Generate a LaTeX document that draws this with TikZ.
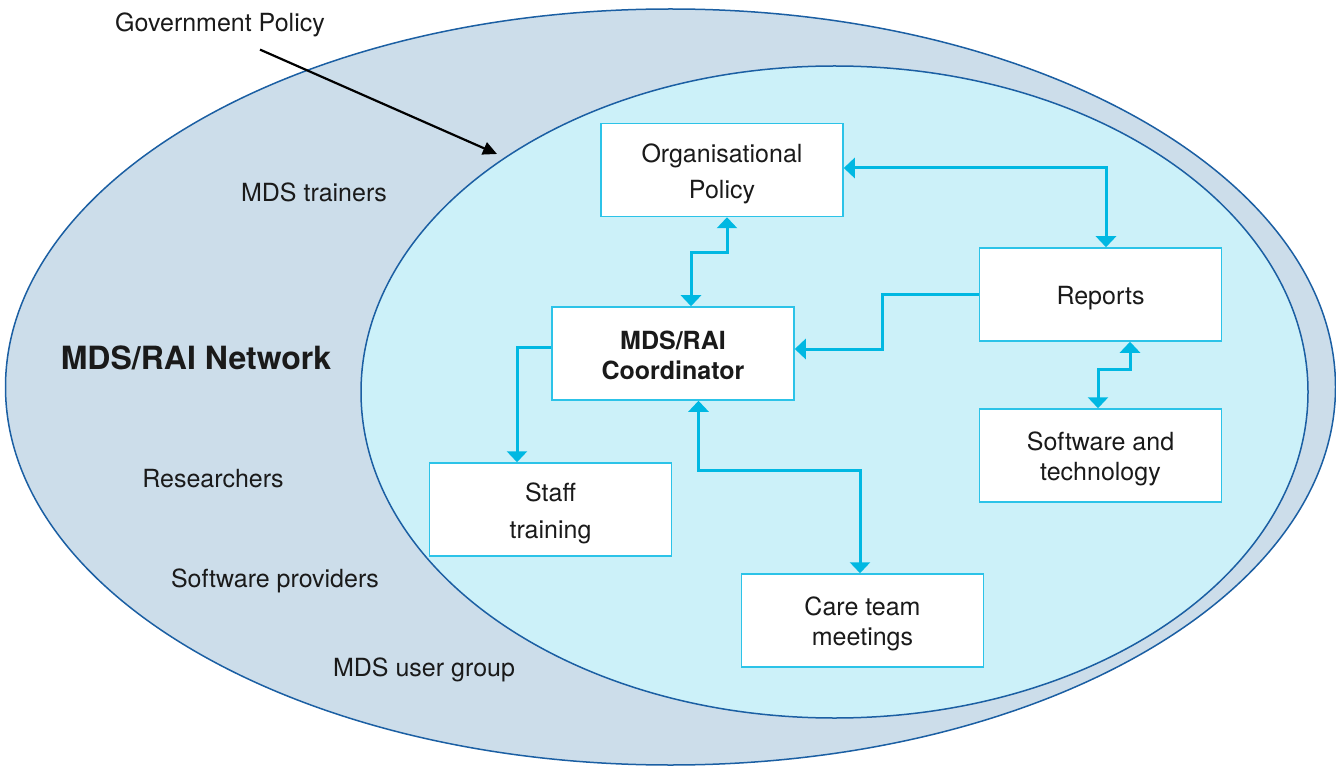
\documentclass[tikz,border=0pt]{standalone}
\usepackage{fontspec}
\setmainfont{TeX Gyre Heros}
\usetikzlibrary{arrows.meta}
\definecolor{outerfill}{HTML}{CCDDEA}
\definecolor{innerfill}{HTML}{CCF1F9}
\definecolor{rim}{HTML}{1B5FA3}
\definecolor{boxline}{HTML}{2CC3E8}
\definecolor{flow}{HTML}{00B8E2}
\definecolor{ink}{HTML}{1A1A1A}
\newcommand\boxlift[1][26pt]{\rule{0pt}{#1}}

\begin{document}
\begin{tikzpicture}[x=1pt, y=-1pt,
  main/.style = {draw=boxline, line width=1.5pt, fill=white, minimum width=242pt, minimum height=93pt, align=center, text=ink, inner sep=0pt, font=\fontsize{25}{30}\selectfont},
  side/.style = {text=ink, font=\fontsize{25}{30}\selectfont},
  link/.style = {draw=flow, line width=3pt, >={Triangle[width=20pt,length=11pt]}}]
\useasboundingbox (0,0) rectangle (1336,767);
\draw[rim, line width=1.5pt, fill=outerfill] (670.5,387) ellipse [x radius=665, y radius=378];
\draw[rim, line width=1.5pt, fill=innerfill] (834.5,392) ellipse [x radius=473.5, y radius=326];

\node[main] (1) at (722,170) {\boxlift Organisational\\[6pt]Policy};
\node[main, font=\bfseries\fontsize{25}{30}\selectfont] (2) at (673,353.5) {\boxlift[21.5pt]MDS/RAI\\Coordinator};
\node[main] (3) at (1100.5,294.5) {\boxlift Reports};
\node[main] (4) at (1100.5,455.5) {\boxlift Software and\\technology};
\node[main] (5) at (550.5,509.5) {\boxlift Staff\\[7pt]training};
\node[main] (6) at (862.5,620.5) {\boxlift Care team\\meetings};

\node[side] (7) at (314,192) {MDS trainers};
\node[side, font=\bfseries\fontsize{32}{38}\selectfont] (8) at (196,358) {MDS/RAI Network};
\node[side] (9) at (213,479) {Researchers};
\node[side] (10) at (275,581) {Software providers};
\node[side] (11) at (424,670) {MDS user group};
\node[side] (12) at (220,25) {Government Policy};
\coordinate (13) at (497,154);

\draw[link, <->] ([xshift=18pt]2.north) -- ++(0,-54) -| ([xshift=5pt]1.south);
\draw[link, <->] ([yshift=2pt]1.east) -| ([xshift=5.5pt]3.north);
\draw[link, ->] (3.west) -- ++(-96,0) |- ([yshift=4.5pt]2.east);
\draw[link, <->] ([xshift=29.5pt]3.south) -- ++(0,28) -| ([xshift=-2.5pt]4.north);
\draw[link, ->] ([yshift=6.5pt]2.west) -| ([xshift=-33.5pt]5.north);
\draw[link, <->] ([xshift=25.5pt]2.south) -- ++(0,70) -| ([xshift=-2.5pt]6.north);
\draw[black, line width=2.2pt, -{Triangle[width=13pt,length=14pt]}] ([xshift=40pt,yshift=-9pt]12.south) -- (13);
\end{tikzpicture}
\end{document}
